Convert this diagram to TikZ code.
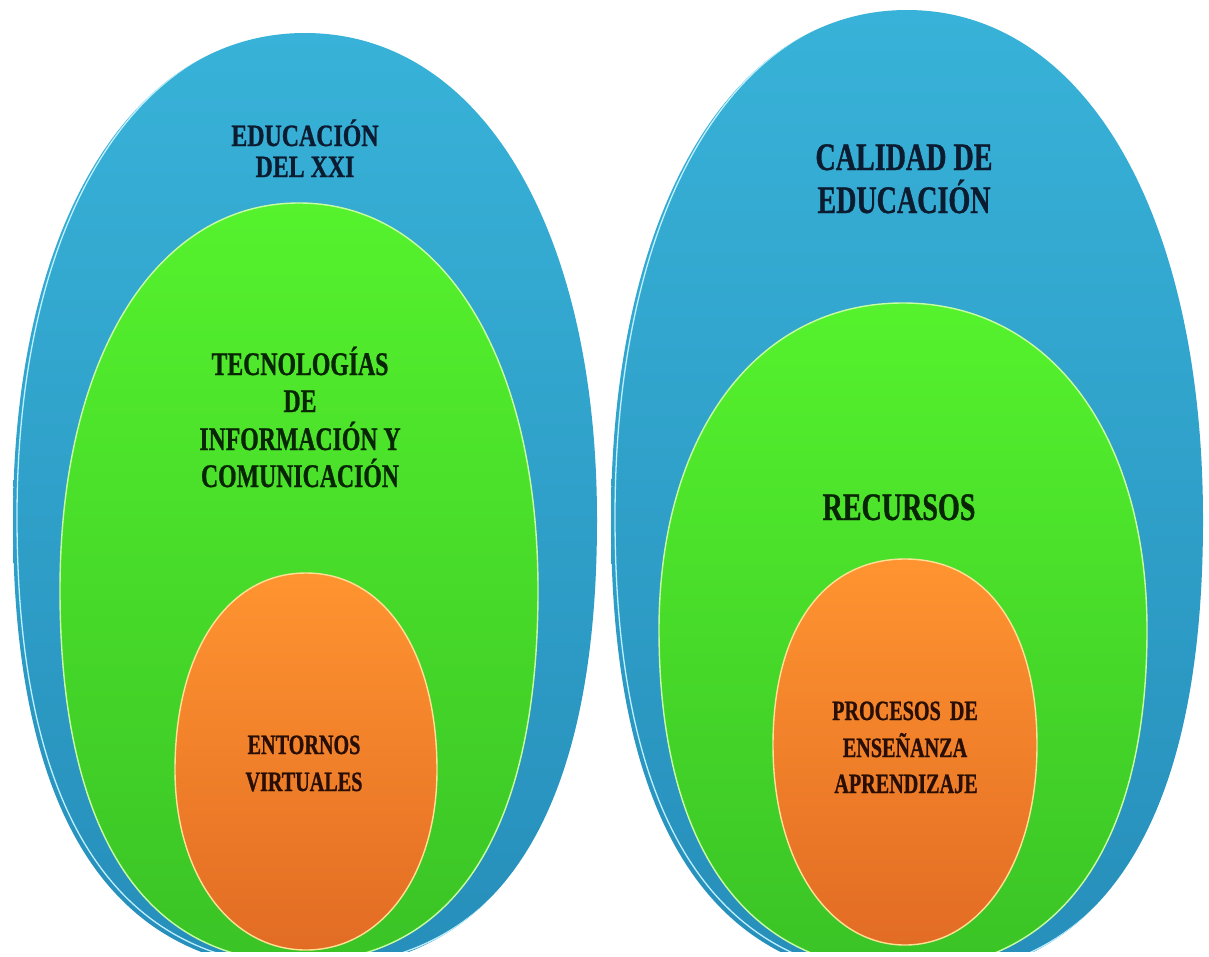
\documentclass[tikz,border=0pt]{standalone}
\usepackage{fontspec}
\newfontfamily\condfont[FakeStretch=0.72,FakeBold=0.8]{Liberation Serif}
\newfontfamily\condfontw[FakeStretch=0.77,FakeBold=0.8]{Liberation Serif}
\definecolor{blueT}{RGB}{56,178,216}
\definecolor{blueB}{RGB}{38,142,186}
\definecolor{blueHL}{RGB}{190,240,255}
\definecolor{greenT}{RGB}{85,242,45}
\definecolor{greenB}{RGB}{58,195,38}
\definecolor{greenHL}{RGB}{200,255,160}
\definecolor{orT}{RGB}{255,148,48}
\definecolor{orB}{RGB}{226,108,36}
\definecolor{orHL}{RGB}{255,225,150}
\definecolor{txtBlue}{RGB}{12,28,48}
\definecolor{txtGreen}{RGB}{8,38,4}
\definecolor{txtOr}{RGB}{40,14,4}
\tikzset{
  egg/.style n args={7}{insert path={(#1,#2-#4) .. controls (#1+#6*#3,#2-#4) and (#1+#3,#2-#6*#4) .. (#1+#3,#2) .. controls (#1+#3,#2+#7*#5) and (#1+#7*#3,#2+#5) .. (#1,#2+#5) .. controls (#1-#7*#3,#2+#5) and (#1-#3,#2+#7*#5) .. (#1-#3,#2) .. controls (#1-#3,#2-#6*#4) and (#1-#6*#3,#2-#4) .. (#1,#2-#4) -- cycle}},
  bluefill/.style={top color=blueT, bottom color=blueB},
  greenfill/.style={top color=greenT, bottom color=greenB, draw=greenHL, line width=1.4pt},
  orfill/.style={top color=orT, bottom color=orB, draw=orHL, line width=1.4pt},
  bevel/.style={draw=blueHL, line width=1.3pt},
  lbl/.style={anchor=base, inner sep=0pt, font=\condfont\bfseries\fontsize{#1}{#1}\selectfont},
  bluetxt/.style={lbl=#1, text=txtBlue},
  greentxt/.style={lbl=#1, text=txtGreen},
  ortxt/.style={lbl=#1, text=txtOr},
}
\begin{document}
\begin{tikzpicture}[x=1pt,y=-1pt]
\useasboundingbox (0,0) rectangle (1209,956);
\fill[white] (0,0) rectangle (1209,956);
\begin{scope}
  \clip (0,0) rectangle (1209,951);
  % left set
  \path[bluefill, egg={305}{520}{292}{487}{450}{0.6}{0.66}];
  \begin{scope}
    \clip[egg={305}{520}{292}{487}{450}{0.6}{0.66}];
    \path[bevel, xshift=4pt, yshift=3pt, egg={305}{520}{292}{487}{450}{0.6}{0.66}];
  \end{scope}
  \path[greenfill, egg={299}{590}{239}{387}{372}{0.6}{0.65}];
  \path[orfill, egg={306}{770}{131}{197}{180}{0.6}{0.58}];
  % right set
  \path[bluefill, egg={907}{520}{296}{510}{460}{0.6}{0.66}];
  \begin{scope}
    \clip[egg={907}{520}{296}{510}{460}{0.6}{0.66}];
    \path[bevel, xshift=4pt, yshift=3pt, egg={907}{520}{296}{510}{460}{0.6}{0.66}];
  \end{scope}
  \path[greenfill, egg={903}{630}{244}{327}{340}{0.6}{0.64}];
  \path[orfill, egg={905}{745}{132}{186}{200}{0.62}{0.58}];
\end{scope}
% left texts
\node[bluetxt=31, font=\condfontw\bfseries\fontsize{31}{31}\selectfont] (edu1) at (305,146) {EDUCACIÓN};
\node[bluetxt=31, font=\condfontw\bfseries\fontsize{31}{31}\selectfont] (edu2) at (305,177) {DEL XXI};
\node[greentxt=33] (tic1) at (300,375) {TECNOLOGÍAS};
\node[greentxt=33] (tic2) at (300,412) {DE};
\node[greentxt=33] (tic3) at (300,450) {INFORMACIÓN Y};
\node[greentxt=33] (tic4) at (300,487) {COMUNICACIÓN};
\node[ortxt=28] (ent1) at (304,754) {ENTORNOS};
\node[ortxt=28] (ent2) at (304,791) {VIRTUALES};
% right texts
\node[bluetxt=39] (cal1) at (904,170) {CALIDAD DE};
\node[bluetxt=39] (cal2) at (904,213) {EDUCACIÓN};
\node[greentxt=39] (rec) at (899,520) {RECURSOS};
\node[ortxt=28] (pro1) at (905,720) {PROCESOS\hspace{4pt} DE};
\node[ortxt=28] (pro2) at (905,757) {ENSEÑANZA};
\node[ortxt=28] (pro3) at (906,793) {APRENDIZAJE};
\end{tikzpicture}
\end{document}
